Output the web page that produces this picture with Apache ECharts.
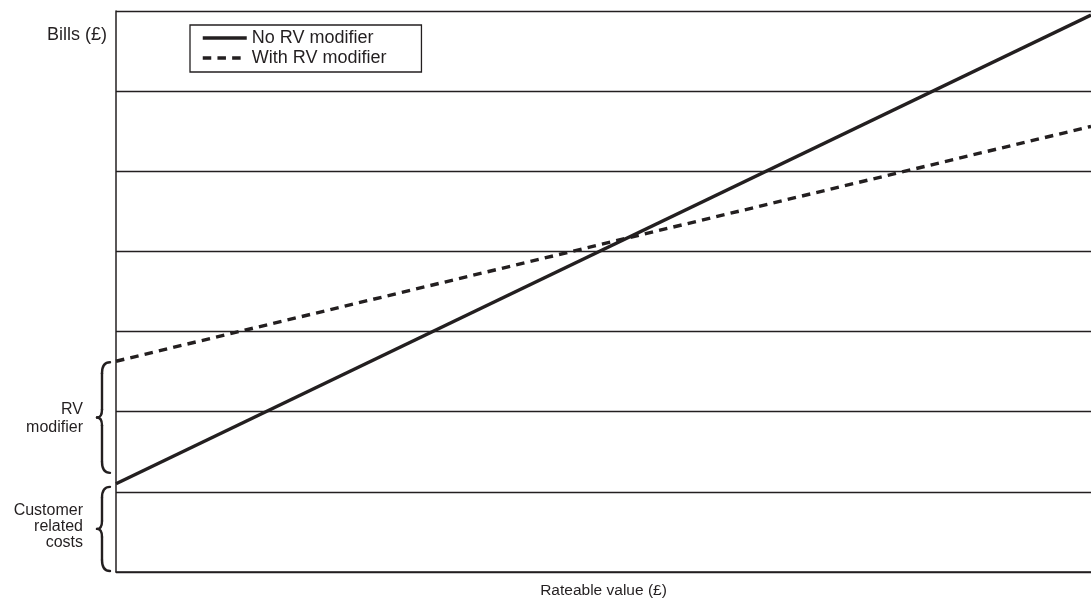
<!DOCTYPE html>
<html><head><meta charset="utf-8">
<script src="https://cdn.jsdelivr.net/npm/echarts@6/dist/echarts.min.js"></script>
<style>html,body{margin:0;padding:0;background:#fff;overflow:hidden}#c{width:1091px;height:601px}</style>
</head><body><div id="c"></div>
<script>
const rateableValue = [0, 1];
const noModifier = [1.1, 6.95];
const withModifier = [2.63, 5.56];
const seriesNames = ['No RV modifier', 'With RV modifier'];
const yTicks = [0, 1, 2, 3, 4, 5, 6, 7];
const braceLabels = ['RV\nmodifier', 'Customer\nrelated\ncosts'];

const FONT = '"Liberation Sans", Arial, Helvetica, sans-serif';
const INK = '#231f20';
const chart = echarts.init(document.getElementById('c'));
chart.setOption({
  animation: false,
  backgroundColor: '#fff',
  grid: { left: 116, right: 0, top: 11, bottom: 29, outerBoundsMode: 'none', containLabel: false },
  xAxis: {
    type: 'value', min: rateableValue[0], max: rateableValue[1],
    name: 'Rateable value (£)', nameLocation: 'middle', nameGap: 11,
    nameTextStyle: { color: INK, fontSize: 15.5, fontFamily: FONT, verticalAlign: 'top' },
    axisLine: { show: true, lineStyle: { color: INK, width: 1.5 } },
    axisTick: { show: false }, axisLabel: { show: false }, splitLine: { show: false }
  },
  yAxis: {
    type: 'value', min: yTicks[0], max: yTicks[yTicks.length - 1], interval: 1,
    axisLine: { show: true, lineStyle: { color: INK, width: 1.5 } },
    axisTick: { show: false }, axisLabel: { show: false },
    splitLine: { show: true, lineStyle: { color: INK, width: 1.4 } }
  },
  legend: {
    orient: 'vertical', left: 190, top: 25,
    data: seriesNames,
    borderColor: INK, borderWidth: 1.3, borderRadius: 0,
    padding: [4, 35, 5, 11], itemGap: 2, itemWidth: 44, itemHeight: 16,
    itemStyle: { opacity: 0 },
    lineStyle: { width: 3.5 },
    textStyle: { color: INK, fontSize: 18, fontFamily: FONT, lineHeight: 18 },
    backgroundColor: '#fff'
  },
  series: [
    {
      name: seriesNames[0], type: 'line', symbol: 'none',
      data: rateableValue.map((x, i) => [x, noModifier[i]]),
      lineStyle: { color: INK, width: 3.4, type: 'solid' },
      itemStyle: { color: INK }, z: 3
    },
    {
      name: seriesNames[1], type: 'line', symbol: 'none',
      data: rateableValue.map((x, i) => [x, withModifier[i]]),
      lineStyle: { color: INK, width: 3.4, type: [8.5, 6.2] },
      itemStyle: { color: INK }, z: 2
    }
  ]
});

function brace(xTip, xR, yTop, yBot) {
  const xM = xTip + 5, mid = (yTop + yBot) / 2, r = 11, r2 = 8;
  const st = { stroke: INK, lineWidth: 2.4, fill: null, lineCap: 'round' };
  return [
    { type: 'bezierCurve', shape: { x1: xR, y1: yTop, cpx1: xM, cpy1: yTop, x2: xM, y2: yTop + r }, style: st },
    { type: 'line', shape: { x1: xM, y1: yTop + r, x2: xM, y2: mid - r2 }, style: st },
    { type: 'bezierCurve', shape: { x1: xM, y1: mid - r2, cpx1: xM, cpy1: mid, x2: xTip, y2: mid }, style: st },
    { type: 'bezierCurve', shape: { x1: xTip, y1: mid, cpx1: xM, cpy1: mid, x2: xM, y2: mid + r2 }, style: st },
    { type: 'line', shape: { x1: xM, y1: mid + r2, x2: xM, y2: yBot - r }, style: st },
    { type: 'bezierCurve', shape: { x1: xM, y1: yBot - r, cpx1: xM, cpy1: yBot, x2: xR, y2: yBot }, style: st }
  ];
}
const px = (x, y) => chart.convertToPixel({ gridIndex: 0 }, [x, y]);
const dashStart = px(rateableValue[0], withModifier[0]);
const solidStart = px(rateableValue[0], noModifier[0]);
const zero = px(rateableValue[0], yTicks[0]);
const xTip = dashStart[0] - 19, xR = dashStart[0] - 6;
const b1 = [dashStart[1] + 1, solidStart[1] - 11];
const b2 = [solidStart[1] + 3, zero[1] - 1];
const labelX = dashStart[0] - 33;
chart.setOption({
  graphic: [].concat(
    brace(xTip, xR, b1[0], b1[1]),
    brace(xTip, xR, b2[0], b2[1]),
    [
      { type: 'text', x: labelX, y: (b1[0] + b1[1]) / 2 + 1, style: { text: braceLabels[0], fill: INK, font: '16px ' + FONT, lineHeight: 18, textAlign: 'right', textVerticalAlign: 'middle' } },
      { type: 'text', x: labelX, y: (b2[0] + b2[1]) / 2 - 2, style: { text: braceLabels[1], fill: INK, font: '16px ' + FONT, lineHeight: 16, textAlign: 'right', textVerticalAlign: 'middle' } },
      { type: 'text', x: labelX + 24, y: 35, style: { text: 'Bills (£)', fill: INK, font: '18px ' + FONT, textAlign: 'right', textVerticalAlign: 'middle' } }
    ]
  )
});
</script></body></html>
